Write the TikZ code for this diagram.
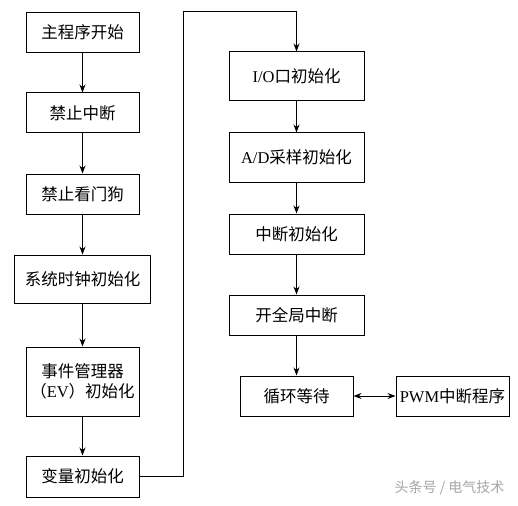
\documentclass[tikz,border=0pt]{standalone}
\usepackage{fontspec}
\setmainfont{Liberation Serif}
\newfontfamily\cjk{Noto Sans CJK SC}
\usetikzlibrary{arrows.meta}
\begin{document}
\begin{tikzpicture}[x=1pt,y=-1pt,
  box/.style={draw, line width=1pt, minimum width=113pt, minimum height=40pt, inner sep=0pt, align=center, font=\fontsize{16.5}{20}\selectfont},
  arr/.style={draw, line width=1pt, -{Stealth[length=8pt,width=6pt]}},
  lk/.style={draw, line width=1pt}]
\useasboundingbox (0,0) rectangle (518,505);
\fill[white] (0,0) rectangle (518,505);
\node[box] (b1) at (82.5,32.5) {\cjk 主程序开始};
\node[box] (b2) at (82.5,113) {\cjk 禁止中断};
\node[box] (b3) at (82.5,194) {\cjk 禁止看门狗};
\node[box, minimum width=136pt, minimum height=48pt] (b4) at (82.5,279) {\cjk 系统时钟初始化};
\node[box, minimum height=69pt] (b5) at (82.5,381.5) {{\cjk 事件管理器}\\{\cjk （}EV{\cjk ）初始化}};
\node[box, minimum height=41pt] (b6) at (82.5,476.5) {\cjk 变量初始化};
\node[box, minimum width=135pt, minimum height=49pt] (b7) at (296.5,76.5) {I/O{\cjk 口初始化}};
\node[box, minimum width=135pt, minimum height=49pt] (b8) at (296.5,157.5) {A/D{\cjk 采样初始化}};
\node[box, minimum width=135pt] (b9) at (296.5,234) {\cjk 中断初始化};
\node[box, minimum width=135pt] (b10) at (296.5,315) {\cjk 开全局中断};
\node[box] (b11) at (296.5,396) {\cjk 循环等待};
\node[box] (b12) at (452.5,396) {PWM{\cjk 中断程序}};
\coordinate (c1) at (183,12);
\draw[arr] (b1) -- (b2);
\draw[arr] (b2) -- (b3);
\draw[arr] (b3) -- (b4);
\draw[arr] (b4) -- (b5);
\draw[arr] (b5) -- (b6);
\draw[arr] (b6.east) -| (c1) -| (b7.north);
\draw[arr] (b7) -- (b8);
\draw[arr] (b8) -- (b9);
\draw[arr] (b9) -- (b10);
\draw[arr] (b10) -- (b11);
\draw[arr, {Stealth[length=8pt,width=6pt]}-{Stealth[length=8pt,width=6pt]}] (b11) -- (b12);
\node[text=black!35, font=\fontsize{14}{16}\selectfont\cjk, anchor=east] (wm) at (508,488) {头条号 / 电气技术};
\end{tikzpicture}
\end{document}
